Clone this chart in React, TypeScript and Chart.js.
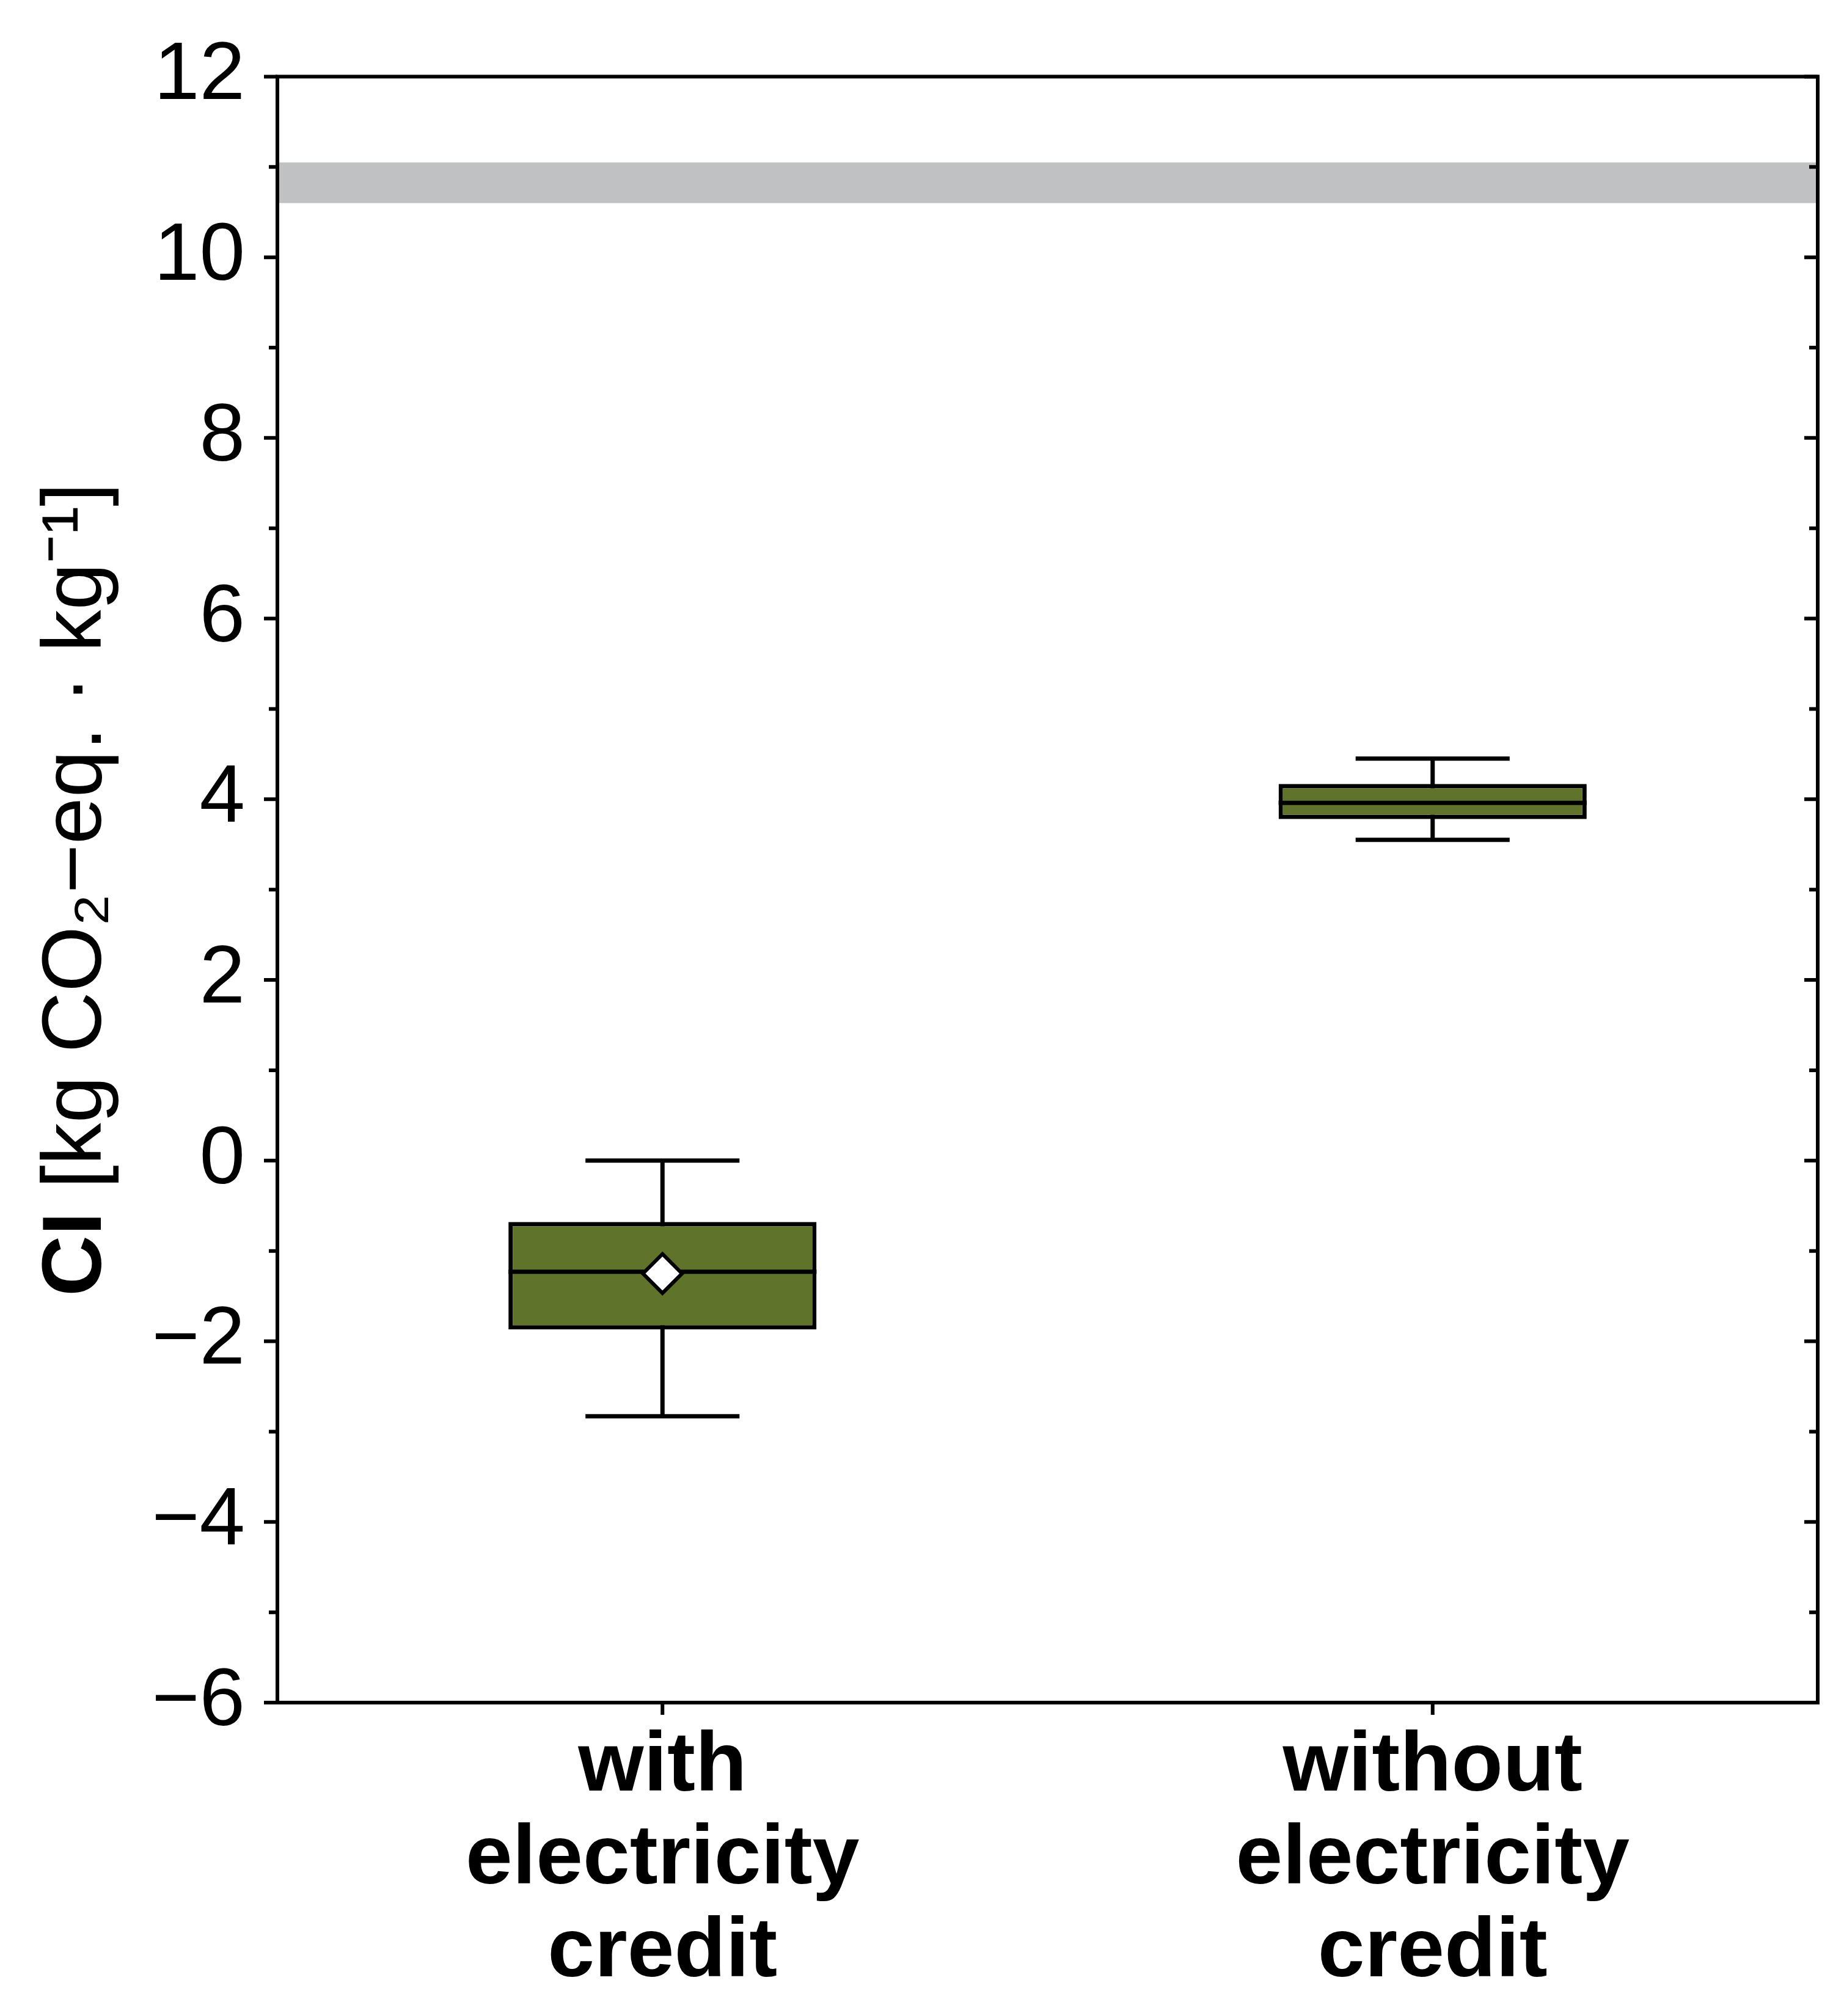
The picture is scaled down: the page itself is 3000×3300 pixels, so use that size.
import { useEffect, useRef } from 'react'
import { Chart, registerables } from 'chart.js'

Chart.register(...registerables)

const categories = [['with', 'electricity', 'credit'], ['without', 'electricity', 'credit']]
const whiskerLow = [-2.83, 3.55]
const q1 = [-1.87, 3.78]
const median = [-1.23, 3.96]
const q3 = [-0.68, 4.17]
const whiskerHigh = [0.0, 4.45]
const means = [-1.25, null]
const bandRange = [10.6, 11.05]

const GREEN = '#5f742a'
const LW = 7

const boxPlugin = {
  id: 'boxExtras',
  beforeDatasetsDraw(chart: any) {
    const { ctx, chartArea: a, scales } = chart
    const y = scales.y
    ctx.save()
    ctx.fillStyle = '#c0c1c3'
    const t = y.getPixelForValue(bandRange[1])
    const b = y.getPixelForValue(bandRange[0])
    ctx.fillRect(a.left, t, a.right - a.left, b - t)
    // whiskers
    ctx.strokeStyle = '#000'
    ctx.lineWidth = LW
    const x = scales.x
    const cw = (a.right - a.left) / categories.length
    categories.forEach((_, i) => {
      const cx = x.getPixelForValue(i)
      const hw = cw * 0.1
      const yl = y.getPixelForValue(whiskerLow[i])
      const yh = y.getPixelForValue(whiskerHigh[i])
      ctx.beginPath()
      ctx.moveTo(cx, yl); ctx.lineTo(cx, yh)
      ctx.moveTo(cx - hw, yl); ctx.lineTo(cx + hw, yl)
      ctx.moveTo(cx - hw, yh); ctx.lineTo(cx + hw, yh)
      ctx.stroke()
    })
    ctx.restore()
  },
  afterDatasetsDraw(chart: any) {
    const { ctx, chartArea: a, scales } = chart
    const y = scales.y
    const x = scales.x
    const cw = (a.right - a.left) / categories.length
    ctx.save()
    ctx.strokeStyle = '#000'
    ctx.lineWidth = LW
    categories.forEach((_, i) => {
      const cx = x.getPixelForValue(i)
      const hw = cw * 0.2
      const ym = y.getPixelForValue(median[i])
      ctx.beginPath()
      ctx.moveTo(cx - hw, ym); ctx.lineTo(cx + hw, ym)
      ctx.stroke()
    })
    // mean diamonds
    means.forEach((m, i) => {
      if (m === null) return
      const cx = x.getPixelForValue(i)
      const cy = y.getPixelForValue(m)
      const r = 32
      ctx.beginPath()
      ctx.moveTo(cx, cy - r); ctx.lineTo(cx + r, cy); ctx.lineTo(cx, cy + r); ctx.lineTo(cx - r, cy); ctx.closePath()
      ctx.fillStyle = '#fff'
      ctx.fill()
      ctx.lineWidth = 6
      ctx.stroke()
    })
    // frame
    ctx.lineWidth = 6
    ctx.strokeRect(a.left, a.top, a.right - a.left, a.bottom - a.top)
    // y ticks (outer left, inner right)
    for (let v = -6; v <= 12; v += 1) {
      const py = y.getPixelForValue(v)
      const len = v % 2 === 0 ? 22 : 14
      ctx.beginPath()
      ctx.moveTo(a.left - len, py); ctx.lineTo(a.left, py)
      ctx.moveTo(a.right - len, py); ctx.lineTo(a.right, py)
      ctx.stroke()
    }
    // x ticks
    categories.forEach((_, i) => {
      const cx = x.getPixelForValue(i)
      ctx.beginPath()
      ctx.moveTo(cx, a.bottom); ctx.lineTo(cx, a.bottom + 20)
      ctx.stroke()
    })
    // y title
    ctx.translate(127, (a.top + a.bottom) / 2)
    ctx.rotate(-Math.PI / 2)
    ctx.fillStyle = '#000'
    ctx.textBaseline = 'middle'
    const boldF = 'bold 138px "Liberation Sans", Arial, sans-serif'
    const normF = '138px "Liberation Sans", Arial, sans-serif'
    const p1 = 'CI '
    const p2 = '[kg CO₂−eq. · kg⁻¹]'
    ctx.font = boldF
    const w1 = ctx.measureText(p1).width
    ctx.font = normF
    const w2 = ctx.measureText(p2).width
    const start = -(w1 + w2) / 2
    ctx.textAlign = 'left'
    ctx.font = boldF
    ctx.fillText(p1, start, 0)
    ctx.font = normF
    ctx.fillText(p2, start + w1, 0)
    ctx.restore()
  },
}

export default function App() {
  const ref = useRef<HTMLCanvasElement>(null)
  useEffect(() => {
    document.body.style.margin = '0'
    if (!ref.current) return
    const chart = new Chart(ref.current, {
      type: 'bar',
      data: {
        labels: categories as any,
        datasets: [
          {
            data: q1.map((v, i) => [v, q3[i]]) as any,
            backgroundColor: GREEN,
            borderColor: '#000',
            borderWidth: LW,
            borderSkipped: false,
            categoryPercentage: 1,
            barPercentage: 0.4,
          },
        ],
      },
      options: {
        animation: false,
        responsive: false,
        devicePixelRatio: 1,
        layout: { padding: { top: 30, right: 25, left: 0, bottom: 0 } },
        plugins: { legend: { display: false }, tooltip: { enabled: false } },
        scales: {
          x: {
            grid: { display: false },
            border: { display: false },
            ticks: {
              color: '#000',
              padding: 22,
              font: { family: '"Liberation Sans", Arial, sans-serif', size: 138, weight: 'bold', lineHeight: 1.1 },
            },
            afterFit: (s: any) => { s.height = 513 },
          },
          y: {
            min: -6,
            max: 12,
            grid: { display: false },
            border: { display: false },
            ticks: {
              stepSize: 2,
              color: '#000',
              padding: 45,
              font: { family: '"Liberation Sans", Arial, sans-serif', size: 134 },
              callback: (v: any) => (Number(v) < 0 ? '−' + Math.abs(Number(v)) : String(v)),
            },
            afterFit: (s: any) => { s.width = 454 },
          },
        },
      },
      plugins: [boxPlugin],
    })
    return () => chart.destroy()
  }, [])
  return <canvas ref={ref} width={3000} height={3300} style={{ display: 'block' }} />
}
